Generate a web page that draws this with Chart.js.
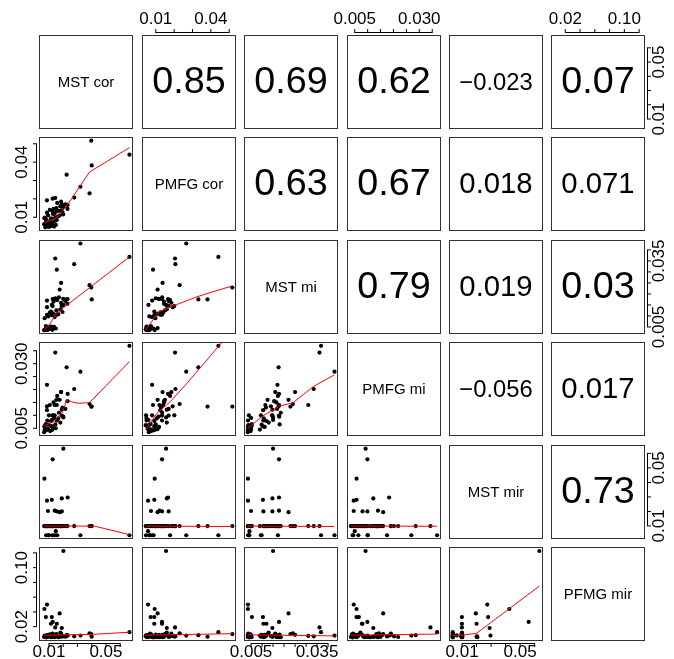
<!DOCTYPE html>
<html>
<head>
<meta charset="utf-8">
<script src="https://cdn.jsdelivr.net/npm/chart.js@4.4.1/dist/chart.umd.min.js"></script>
<style>
  html, body { margin: 0; padding: 0; background: #fff; }
  #pairs { position: relative; width: 674px; height: 659px; overflow: hidden; }
  #pairs canvas { position: absolute; }
</style>
</head>
<body>
<div id="pairs"></div>
<script>
// variable names on the diagonal
const varNames = ['MST cor', 'PMFG cor', 'MST mi', 'PMFG mi', 'MST mir', 'PFMG mir'];

// one value per observation, same order in every array
const mstCor = [
  0.0665, 0.0321, 0.0144, 0.0277, 0.0155, 0.0185, 0.0385, 0.0397, 0.0400, 0.0224, 0.0086,
  0.0201, 0.0126, 0.0068, 0.0086, 0.0120, 0.0190, 0.0231, 0.0093, 0.0155, 0.0190, 0.0140, 0.0175,
  0.0066, 0.0074, 0.0080, 0.0088, 0.0094, 0.0100, 0.0108, 0.0116, 0.0124, 0.0136, 0.0148, 0.0078,
  0.0070, 0.0086, 0.0095, 0.0106, 0.0114, 0.0128, 0.0140, 0.0152, 0.0165, 0.0180, 0.0195,
  0.0120, 0.0132, 0.0145, 0.0158, 0.0170, 0.0185, 0.0200, 0.0215, 0.0230, 0.0126, 0.0086
];
const pmfgCor = [
  0.0441, 0.0266, 0.0205, 0.0207, 0.0085, 0.0137, 0.0230, 0.0517, 0.0382, 0.0332, 0.0080,
  0.0156, 0.0134, 0.0094, 0.0058, 0.0092, 0.0160, 0.0167, 0.0074, 0.0134, 0.0170, 0.0120, 0.0110,
  0.0062, 0.0045, 0.0088, 0.0050, 0.0110, 0.0047, 0.0075, 0.0052, 0.0068, 0.0049, 0.0058, 0.0072,
  0.0098, 0.0125, 0.0065, 0.0140, 0.0092, 0.0118, 0.0080, 0.0150, 0.0105, 0.0160, 0.0128,
  0.0060, 0.0145, 0.0100, 0.0178, 0.0135, 0.0185, 0.0115, 0.0170, 0.0145, 0.0201, 0.0192
];
const mstMi = [
  0.0368, 0.0429, 0.0361, 0.0335, 0.0310, 0.0250, 0.0240, 0.0229, 0.0175, 0.0175, 0.0170,
  0.0150, 0.0177, 0.0036, 0.0036, 0.0104, 0.0147, 0.0177, 0.0050, 0.0106, 0.0147, 0.0177, 0.0220,
  0.0035, 0.0038, 0.0042, 0.0036, 0.0045, 0.0040, 0.0048, 0.0052, 0.0037, 0.0050, 0.0043, 0.0054,
  0.0090, 0.0105, 0.0098, 0.0115, 0.0120, 0.0112, 0.0095, 0.0125, 0.0108, 0.0130, 0.0118,
  0.0150, 0.0165, 0.0180, 0.0172, 0.0185, 0.0160, 0.0178, 0.0168, 0.0155, 0.0145, 0.0140
];
const pmfgMi = [
  0.0369, 0.0269, 0.0343, 0.0202, 0.0140, 0.0190, 0.0144, 0.0134, 0.0134, 0.0286, 0.0218,
  0.0092, 0.0099, 0.0057, 0.0046, 0.0057, 0.0122, 0.0183, 0.0046, 0.0080, 0.0099, 0.0140, 0.0160,
  0.0035, 0.0062, 0.0042, 0.0080, 0.0047, 0.0100, 0.0039, 0.0058, 0.0044, 0.0090, 0.0050, 0.0066,
  0.0045, 0.0120, 0.0064, 0.0140, 0.0078, 0.0055, 0.0100, 0.0160, 0.0088, 0.0072, 0.0130,
  0.0082, 0.0150, 0.0065, 0.0175, 0.0110, 0.0190, 0.0095, 0.0125, 0.0155, 0.0100, 0.0135
];
const mstMir = [
  0.0036, 0.0036, 0.0099, 0.0099, 0.0099, 0.0099, 0.0099, 0.0099, 0.0099, 0.0099, 0.0099,
  0.0633, 0.0559, 0.0426, 0.0274, 0.0280, 0.0290, 0.0296, 0.0203, 0.0200, 0.0200, 0.0205, 0.0195,
  0.0099, 0.0099, 0.0036, 0.0099, 0.0099, 0.0036, 0.0099, 0.0099, 0.0036, 0.0099, 0.0064, 0.0099,
  0.0099, 0.0099, 0.0036, 0.0099, 0.0099, 0.0099, 0.0036, 0.0099, 0.0099, 0.0099, 0.0099,
  0.0099, 0.0099, 0.0099, 0.0036, 0.0099, 0.0099, 0.0099, 0.0099, 0.0099, 0.0099, 0.0099
];
const pfmgMir = [
  0.0125, 0.0080, 0.0190, 0.0070, 0.0075, 0.0090, 0.0110, 0.0100, 0.0065, 0.0085, 0.0060,
  0.1226, 0.0264, 0.0440, 0.0500, 0.0330, 0.0182, 0.0080, 0.0070, 0.0240, 0.0065, 0.0058, 0.0380,
  0.0060, 0.0072, 0.0055, 0.0085, 0.0066, 0.0078, 0.0095, 0.0058, 0.0105, 0.0070, 0.0082, 0.0330,
  0.0080, 0.0062, 0.0090, 0.0068, 0.0240, 0.0088, 0.0064, 0.0098, 0.0057, 0.0120, 0.0075,
  0.0070, 0.0062, 0.0092, 0.0068, 0.0057, 0.0105, 0.0072, 0.0064, 0.0083, 0.0066, 0.0075
];

// correlations printed in the upper panels, row by row
const corRow1 = ['0.85', '0.69', '0.62', '\u22120.023', '0.07'];
const corRow2 = ['0.63', '0.67', '0.018', '0.071'];
const corRow3 = ['0.79', '0.019', '0.03'];
const corRow4 = ['\u22120.056', '0.017'];
const corRow5 = ['0.73'];

// tick values and their labels ('' = tick without label)
const ticksMstCor = [0.01, 0.02, 0.03, 0.04, 0.05, 0.06];
const labelsMstCor = ['0.01', '', '', '', '0.05', ''];
const ticksPmfgCor = [0.01, 0.02, 0.03, 0.04, 0.05];
const labelsPmfgCor = ['0.01', '', '', '0.04', ''];
const ticksMstMi = [0.005, 0.010, 0.015, 0.020, 0.025, 0.030, 0.035, 0.040];
const labelsMstMi = ['0.005', '', '', '', '', '', '0.035', ''];
const ticksPmfgMi = [0.005, 0.010, 0.015, 0.020, 0.025, 0.030, 0.035];
const labelsPmfgMi = ['0.005', '', '', '', '', '0.030', ''];
const ticksMstMir = [0.01, 0.02, 0.03, 0.04, 0.05, 0.06];
const labelsMstMir = ['0.01', '', '', '', '0.05', ''];
const ticksPfmgMir = [0.02, 0.04, 0.06, 0.08, 0.10, 0.12];
const labelsPfmgMir = ['0.02', '', '', '', '0.10', ''];

// red smoother lines: [x, y]
const smoothPmfgCorMstCor = [[0.0066, 0.0072], [0.0144, 0.0091], [0.0224, 0.0161], [0.0385, 0.0346], [0.0665, 0.0479]];
const smoothMstMiMstCor = [[0.0066, 0.0036], [0.0098, 0.0055], [0.0144, 0.0103], [0.0190, 0.0131], [0.0665, 0.0368]];
const smoothMstMiPmfgCor = [[0.0045, 0.0036], [0.0115, 0.0118], [0.0215, 0.0152], [0.0324, 0.0187], [0.0511, 0.0235]];
const smoothPmfgMiMstCor = [[0.0066, 0.0059], [0.0133, 0.0075], [0.0190, 0.0108], [0.0229, 0.0162], [0.0260, 0.0152], [0.0305, 0.0147], [0.0385, 0.0149], [0.0665, 0.0308]];
const smoothPmfgMiPmfgCor = [[0.0045, 0.0046], [0.0107, 0.0108], [0.0179, 0.0153], [0.0270, 0.0224], [0.0517, 0.0430]];
const smoothPmfgMiMstMi = [[0.0035, 0.0050], [0.0104, 0.0098], [0.0180, 0.0136], [0.0241, 0.0149], [0.0332, 0.0211], [0.0427, 0.0256]];
const smoothMstMirMstCor = [[0.0066, 0.0099], [0.0419, 0.0099], [0.0665, 0.0040]];
const smoothMstMirPmfgCor = [[0.0045, 0.0099], [0.0517, 0.0096]];
const smoothMstMirMstMi = [[0.0035, 0.0099], [0.0429, 0.0096]];
const smoothMstMirPmfgMi = [[0.0035, 0.0099], [0.0369, 0.0098]];
const smoothPfmgMirMstCor = [[0.0066, 0.0085], [0.0400, 0.0095], [0.0665, 0.0125]];
const smoothPfmgMirPmfgCor = [[0.0045, 0.0085], [0.0517, 0.0105]];
const smoothPfmgMirMstMi = [[0.0035, 0.0090], [0.0429, 0.0075]];
const smoothPfmgMirPmfgMi = [[0.0035, 0.0085], [0.0369, 0.0100]];
const smoothPfmgMirMstMir = [[0.0036, 0.0080], [0.0099, 0.0085], [0.0200, 0.0110], [0.0633, 0.0750]];

// axis limits of each variable (data range plus R's 4% margin)
const axisMin = [0.0030, 0.0025, 0.0018, 0.0020, 0.0010, 0.0006];
const axisMax = [0.0690, 0.0537, 0.0445, 0.0384, 0.0658, 0.1280];

const series = [mstCor, pmfgCor, mstMi, pmfgMi, mstMir, pfmgMir];
const corRows = [corRow1, corRow2, corRow3, corRow4, corRow5];
const tickSets = [ticksMstCor, ticksPmfgCor, ticksMstMi, ticksPmfgMi, ticksMstMir, ticksPfmgMir];
const labelSets = [labelsMstCor, labelsPmfgCor, labelsMstMi, labelsPmfgMi, labelsMstMir, labelsPfmgMir];
const smoothLines = {
  '1-0': smoothPmfgCorMstCor, '2-0': smoothMstMiMstCor, '2-1': smoothMstMiPmfgCor,
  '3-0': smoothPmfgMiMstCor, '3-1': smoothPmfgMiPmfgCor, '3-2': smoothPmfgMiMstMi,
  '4-0': smoothMstMirMstCor, '4-1': smoothMstMirPmfgCor, '4-2': smoothMstMirMstMi, '4-3': smoothMstMirPmfgMi,
  '5-0': smoothPfmgMirMstCor, '5-1': smoothPfmgMirPmfgCor, '5-2': smoothPfmgMirMstMi,
  '5-3': smoothPfmgMirPmfgMi, '5-4': smoothPfmgMirMstMir
};

const FONT = '"Liberation Sans", Arial, Helvetica, sans-serif';
const PANEL = 94;
const PITCH = 102.4;
const LEFT0 = 39.3;
const TOP0 = 35;
const MARGIN = 40;

const pairCell = {
  id: 'pairCell',
  afterDatasetsDraw(chart, args, opts) {
    const ctx = chart.ctx;
    const ca = chart.chartArea;
    ctx.save();
    ctx.strokeStyle = '#333';
    ctx.lineWidth = 1;
    ctx.strokeRect(ca.left + 0.5, ca.top + 0.5, ca.width - 1, ca.height - 1);

    ctx.fillStyle = '#000';
    ctx.textAlign = 'center';
    ctx.textBaseline = 'middle';
    const cx = (ca.left + ca.right) / 2;
    const cy = (ca.top + ca.bottom) / 2;
    if (opts.label) {
      ctx.font = '15px ' + FONT;
      ctx.fillText(opts.label, cx, cy + 1);
    }
    if (opts.cor) {
      ctx.font = '100px ' + FONT;
      const size = 100 * (0.78 * ca.width) / ctx.measureText(opts.cor).width;
      ctx.font = size.toFixed(1) + 'px ' + FONT;
      ctx.fillText(opts.cor, cx, cy + 1);
    }

    ctx.font = '17px ' + FONT;
    ctx.strokeStyle = '#000';
    (opts.axes || []).forEach(ax => {
      const ticks = tickSets[ax.v];
      const labels = labelSets[ax.v];
      const horiz = ax.side === 'top' || ax.side === 'bottom';
      const scale = horiz ? chart.scales.x : chart.scales.y;
      const pos = ticks.map(t => scale.getPixelForValue(t));
      ctx.beginPath();
      if (horiz) {
        const y0 = ax.side === 'top' ? ca.top - 2 : ca.bottom + 2;
        const dir = ax.side === 'top' ? -1 : 1;
        ctx.moveTo(pos[0], y0 + 0.5 * dir);
        ctx.lineTo(pos[pos.length - 1], y0 + 0.5 * dir);
        pos.forEach(p => { ctx.moveTo(p, y0); ctx.lineTo(p, y0 + 4 * dir); });
        ctx.stroke();
        ctx.textBaseline = 'alphabetic';
        labels.forEach((txt, i) => {
          if (!txt) return;
          ctx.fillText(txt, pos[i], ax.side === 'top' ? ca.top - 11 : ca.bottom + 16);
        });
      } else {
        const x0 = ax.side === 'left' ? ca.left - 2 : ca.right + 2;
        const dir = ax.side === 'left' ? -1 : 1;
        ctx.moveTo(x0 + 0.5 * dir, pos[0]);
        ctx.lineTo(x0 + 0.5 * dir, pos[pos.length - 1]);
        pos.forEach(p => { ctx.moveTo(x0, p); ctx.lineTo(x0 + 4 * dir, p); });
        ctx.stroke();
        ctx.textBaseline = 'alphabetic';
        const bx = ax.side === 'left' ? ca.left - 12.5 : ca.right + 18.5;
        labels.forEach((txt, i) => {
          if (!txt) return;
          ctx.save();
          ctx.translate(bx, pos[i]);
          ctx.rotate(-Math.PI / 2);
          ctx.fillText(txt, 0, 0);
          ctx.restore();
        });
      }
    });
    ctx.restore();
  }
};

const host = document.getElementById('pairs');

for (let r = 0; r < 6; r++) {
  for (let c = 0; c < 6; c++) {
    const left = Math.round(LEFT0 + PITCH * c);
    const top = Math.round(TOP0 + PITCH * r);
    const canvas = document.createElement('canvas');
    canvas.width = PANEL + 2 * MARGIN;
    canvas.height = PANEL + 2 * MARGIN;
    canvas.style.left = (left - MARGIN) + 'px';
    canvas.style.top = (top - MARGIN) + 'px';
    host.appendChild(canvas);

    const axes = [];
    if (r === 0 && c % 2 === 1) axes.push({ side: 'top', v: c });
    if (r === 5 && c % 2 === 0) axes.push({ side: 'bottom', v: c });
    if (c === 0 && r % 2 === 1) axes.push({ side: 'left', v: r });
    if (c === 5 && r % 2 === 0) axes.push({ side: 'right', v: r });

    const datasets = [];
    const cell = { axes };
    if (r > c) {
      const smooth = smoothLines[r + '-' + c];
      datasets.push({
        data: smooth.map(p => ({ x: p[0], y: p[1] })),
        showLine: true,
        borderColor: '#ff0000',
        borderWidth: 1,
        pointRadius: 0,
        tension: 0
      });
      datasets.push({
        data: series[c].map((v, k) => ({ x: v, y: series[r][k] })),
        pointRadius: 2.1,
        pointBackgroundColor: '#000',
        pointBorderWidth: 0
      });
    } else if (r === c) {
      cell.label = varNames[r];
    } else {
      cell.cor = corRows[r][c - r - 1];
    }

    new Chart(canvas, {
      type: 'scatter',
      data: { datasets },
      options: {
        responsive: false,
        animation: false,
        events: [],
        layout: { padding: MARGIN },
        plugins: {
          legend: { display: false },
          tooltip: { enabled: false },
          pairCell: cell
        },
        scales: {
          x: { type: 'linear', display: false, min: axisMin[c], max: axisMax[c] },
          y: { type: 'linear', display: false, min: axisMin[r], max: axisMax[r] }
        }
      },
      plugins: [pairCell]
    });
  }
}
</script>
</body>
</html>
